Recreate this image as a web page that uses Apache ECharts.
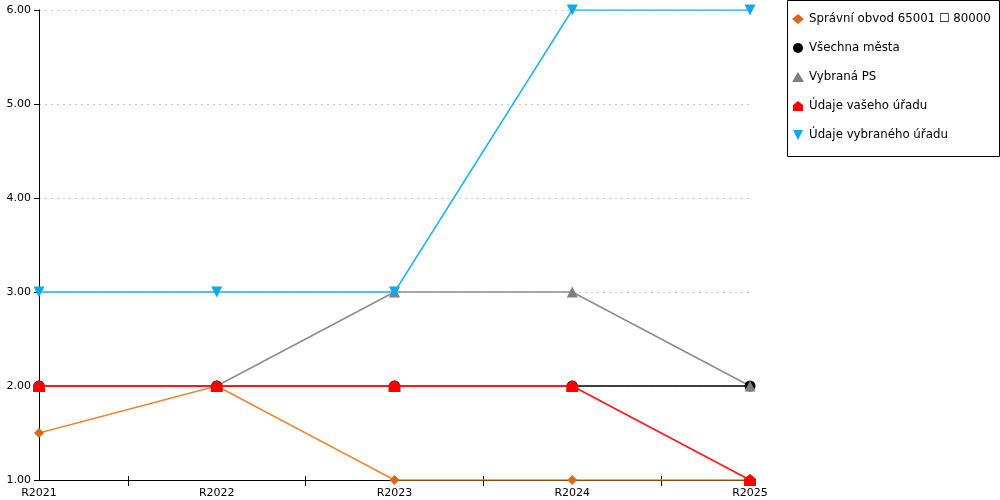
<!DOCTYPE html>
<html><head><meta charset="utf-8">
<script src="https://cdn.jsdelivr.net/npm/echarts@6/dist/echarts.min.js"></script>
<style>html,body{margin:0;padding:0;background:#fff}#c{width:1000px;height:500px}</style>
</head><body><div id="c"></div>
<script>
const categories = ['R2021','R2022','R2023','R2024','R2025'];
const yTicks = [1, 2, 3, 4, 5, 6];
const seriesNames = ['Správní obvod 65001 ☐ 80000','Všechna města','Vybraná PS','Údaje vašeho úřadu','Údaje vybraného úřadu'];
const obvod = [1.5, 2, 1, 1, 1];
const vsechnaMesta = [2, 2, 2, 2, 2];
const vybranaPS = [2, 2, 3, 3, 2];
const vasUrad = [2, 2, 2, 2, 1];
const vybranyUrad = [3, 3, 3, 6, 6];

const font = 'DejaVu Sans';
const house = 'path://M0,10 L0,4 L5,0 L10,4 L10,10 Z';
const downTri = 'path://M0,0 L10,0 L5,10 Z';
function mk(name, data, lineColor, markColor, symbol, size, lw) {
  return {name, type:'line', data, xAxisIndex:0, yAxisIndex:0, symbol, symbolSize:size,
    lineStyle:{color:lineColor, width:lw}, itemStyle:{color:markColor}, color:markColor,
    animation:false, emphasis:{disabled:true}};
}
const chart = echarts.init(document.getElementById('c'));
chart.setOption({
  animation:false,
  grid:{left:39, right:250, top:10, bottom:20, containLabel:false},
  legend:{orient:'vertical', left:792, top:13, padding:0, itemGap:17, itemWidth:12, itemHeight:10,
    textStyle:{fontFamily:font, fontSize:11.8, color:'#000'},
    data:[
      {name:seriesNames[0], icon:'diamond'},
      {name:seriesNames[1], icon:'circle'},
      {name:seriesNames[2], icon:'triangle'},
      {name:seriesNames[3], icon:house},
      {name:seriesNames[4], icon:downTri}
    ]},
  graphic:[{type:'rect', shape:{x:787.5, y:0.5, width:212, height:156}, style:{fill:'none', stroke:'#000', lineWidth:1}, z:100}],
  xAxis:[
    {type:'category', data:categories, boundaryGap:false,
      axisLine:{lineStyle:{color:'#000', width:1}}, axisTick:{show:false},
      axisLabel:{color:'#000', fontFamily:font, fontSize:11, margin:8}, splitLine:{show:false}},
    {type:'value', min:0, max:categories.length-1, interval:1, position:'bottom',
      axisLine:{show:false}, axisLabel:{show:false}, axisTick:{show:false}, splitLine:{show:false},
      minorTick:{show:true, splitNumber:2, length:6, lineStyle:{color:'#000'}}},
    {type:'value', min:0, max:categories.length-1, interval:1, position:'bottom',
      axisLine:{show:false}, axisLabel:{show:false}, axisTick:{show:false, inside:true}, splitLine:{show:false},
      minorTick:{show:true, splitNumber:2, length:4, lineStyle:{color:'#000'}}}
  ],
  yAxis:[
    {type:'value', min:yTicks[0], max:yTicks[yTicks.length-1], interval:1,
      axisLine:{show:true, lineStyle:{color:'#000'}}, axisTick:{show:true, length:5, lineStyle:{color:'#000'}},
      axisLabel:{color:'#000', fontFamily:font, fontSize:11, margin:8, formatter:v=>v.toFixed(2)},
      splitLine:{show:true, lineStyle:{color:'#c8c8c8', type:[2,4], width:1}}},
    {type:'value', min:yTicks[0], max:yTicks[yTicks.length-1], interval:1, position:'right',
      axisLine:{show:true, lineStyle:{color:'#000'}}, axisTick:{show:false}, axisLabel:{show:false}, splitLine:{show:false}}
  ],
  series:[
    mk(seriesNames[0], obvod, '#ef8634', '#d9691a', 'diamond', 10, 1.5),
    mk(seriesNames[1], vsechnaMesta, '#000000', '#000000', 'circle', 11, 1.5),
    mk(seriesNames[2], vybranaPS, '#8c8c8c', '#7f7f7f', 'triangle', 11, 1.5),
    mk(seriesNames[3], vasUrad, '#ff1a1a', '#ff0000', house, 12, 1.8),
    mk(seriesNames[4], vybranyUrad, '#1cb4ee', '#0ea9ea', downTri, 11, 1.5)
  ]
});
</script></body></html>
